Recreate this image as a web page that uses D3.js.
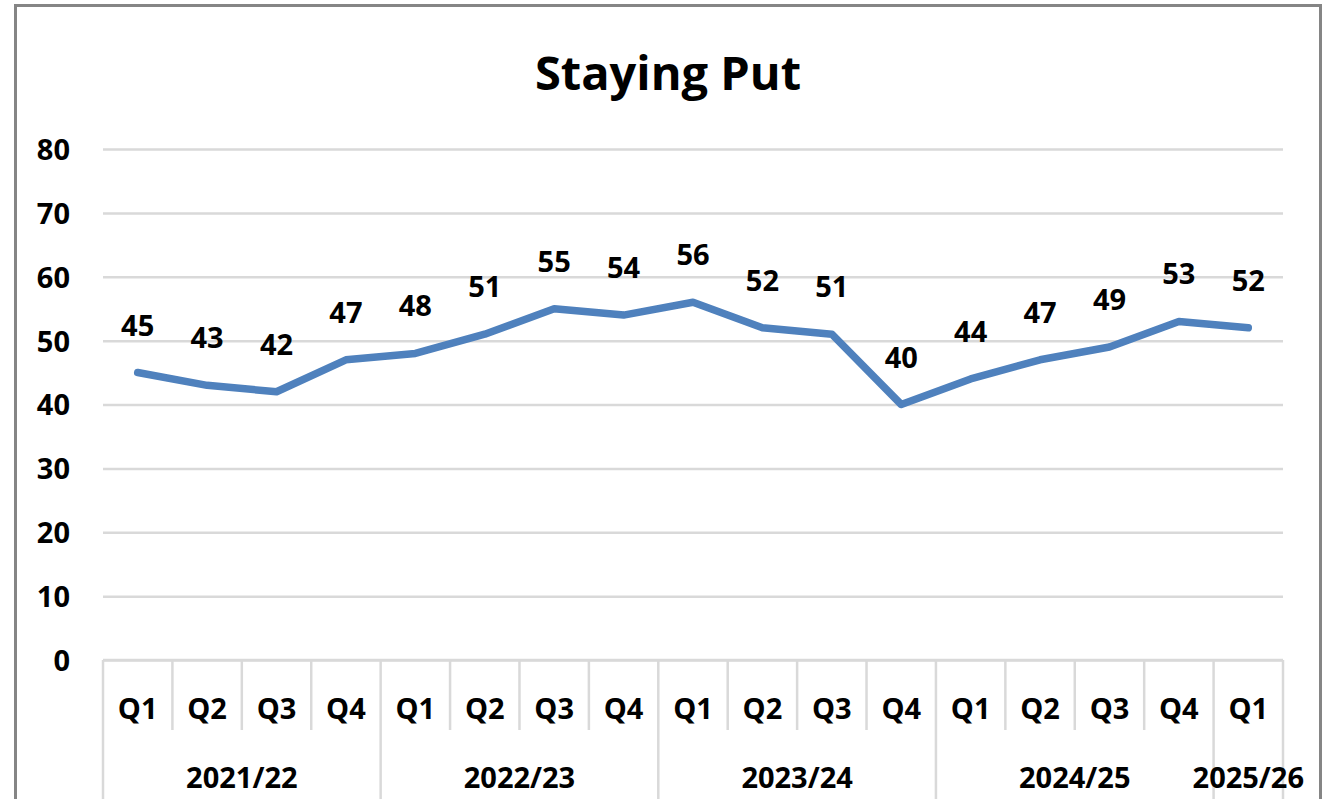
<!DOCTYPE html>
<html lang="en">
<head>
<meta charset="UTF-8">
<title>Staying Put</title>
<script src="https://d3js.org/d3.v7.min.js"></script>
<style>
    body { margin: 0; background: #fff; overflow: hidden; }
    text { font-family: "Open Sans", sans-serif; font-weight: bold; fill: #000; }
</style>
</head>
<body>
<script>
// chart data
var quarters = ["Q1","Q2","Q3","Q4","Q1","Q2","Q3","Q4","Q1","Q2","Q3","Q4","Q1","Q2","Q3","Q4","Q1"];
var years = ["2021/22","2022/23","2023/24","2024/25","2025/26"];
var yearSizes = [4, 4, 4, 4, 1];
var values = [45, 43, 42, 47, 48, 51, 55, 54, 56, 52, 51, 40, 44, 47, 49, 53, 52];
var yTicks = [0, 10, 20, 30, 40, 50, 60, 70, 80];

var w = 1332, h = 799;
var plotLeft = 103, plotRight = 1283, plotTop = 149, plotBottom = 660;
var grey = "#d9d9d9";
var fs = "29px";

var svg = d3.select("body").append("svg")
    .attr("width", w)
    .attr("height", h);

// outer frame
svg.append("rect")
    .attr("x", 15.5).attr("y", 5.5)
    .attr("width", 1305).attr("height", 820)
    .attr("fill", "#fff")
    .attr("stroke", "#858585")
    .attr("stroke-width", 3);

svg.append("text")
    .attr("x", 668).attr("y", 90)
    .attr("text-anchor", "middle")
    .style("font-size", "47px")
    .text("Staying Put");

var x = d3.scaleBand()
    .domain(d3.range(values.length))
    .range([plotLeft, plotRight])
    .paddingInner(0).paddingOuter(0);

var y = d3.scaleLinear()
    .domain([0, 80])
    .range([plotBottom, plotTop]);

// gridlines + y labels
var yAxis = svg.append("g")
    .attr("transform", "translate(" + plotLeft + ",0)")
    .call(d3.axisLeft(y).tickValues(yTicks).tickSize(-(plotRight - plotLeft)).tickPadding(33));
yAxis.select(".domain").remove();
yAxis.selectAll(".tick line")
    .attr("stroke", grey)
    .attr("stroke-width", 2.5);
yAxis.selectAll(".tick text")
    .style("font-size", fs)
    .attr("dy", "0.36em");

// category axis: quarter row and year row
svg.append("line")
    .attr("x1", plotLeft).attr("x2", plotRight)
    .attr("y1", plotBottom).attr("y2", plotBottom)
    .attr("stroke", grey).attr("stroke-width", 2.5);

var bw = x.bandwidth();
var starts = [];
var acc = 0;
yearSizes.forEach(function(n){ starts.push(acc); acc += n; });

// separators between quarters, longer ones between years
for (var i = 0; i <= values.length; i++) {
    var xx = plotLeft + i * bw;
    var isYear = starts.indexOf(i) >= 0 || i == values.length;
    svg.append("line")
        .attr("x1", xx).attr("x2", xx)
        .attr("y1", plotBottom).attr("y2", isYear ? h + 5 : 730)
        .attr("stroke", grey).attr("stroke-width", 2.5);
}

svg.selectAll(".qlab")
    .data(quarters)
    .enter()
    .append("text")
    .attr("class", "qlab")
    .attr("x", function(d, i){ return x(i) + bw / 2; })
    .attr("y", 719)
    .attr("text-anchor", "middle")
    .style("font-size", fs)
    .text(function(d){ return d; });

svg.selectAll(".ylab")
    .data(years)
    .enter()
    .append("text")
    .attr("class", "ylab")
    .attr("x", function(d, i){ return x(starts[i]) + yearSizes[i] * bw / 2; })
    .attr("y", 788)
    .attr("text-anchor", "middle")
    .style("font-size", fs)
    .text(function(d){ return d; });

// the line
var line = d3.line()
    .x(function(d, i){ return x(i) + bw / 2; })
    .y(function(d){ return y(d); });

svg.append("path")
    .datum(values)
    .attr("d", line)
    .attr("fill", "none")
    .attr("stroke", "#4f81bd")
    .attr("stroke-width", 7.5)
    .attr("stroke-linecap", "round")
    .attr("stroke-linejoin", "round");

// data labels
svg.selectAll(".dlab")
    .data(values)
    .enter()
    .append("text")
    .attr("class", "dlab")
    .attr("x", function(d, i){ return x(i) + bw / 2; })
    .attr("y", function(d){ return y(d) - 37; })
    .attr("text-anchor", "middle")
    .style("font-size", fs)
    .text(function(d){ return d; });
</script>
</body>
</html>
